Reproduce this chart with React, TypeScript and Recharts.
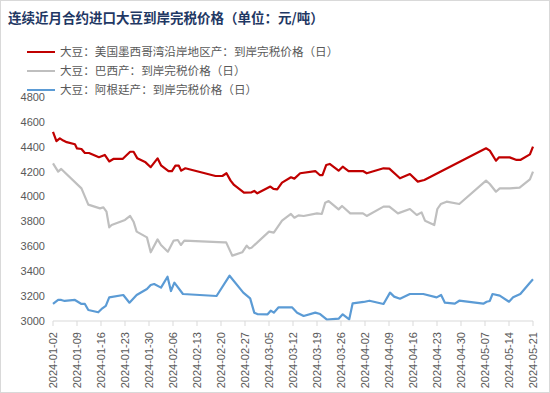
import React from 'react';
import { LineChart, Line, XAxis, YAxis, Legend } from 'recharts';

const seriesNames = [
  '大豆：美国墨西哥湾沿岸地区产：到岸完税价格（日）',
  '大豆：巴西产：到岸完税价格（日）',
  '大豆：阿根廷产：到岸完税价格（日）',
];
const seriesColors = ['#C00000', '#BFBFBF', '#5B9BD5'];

const tickLabels = [
  '2024-01-02', '2024-01-09', '2024-01-16', '2024-01-23', '2024-01-30', '2024-02-06', '2024-02-13',
  '2024-02-20', '2024-02-27', '2024-03-05', '2024-03-12', '2024-03-19', '2024-03-26', '2024-04-02',
  '2024-04-09', '2024-04-16', '2024-04-23', '2024-04-30', '2024-05-07', '2024-05-14', '2024-05-21',
];
const yTicks = [3000, 3200, 3400, 3600, 3800, 4000, 4200, 4400, 4600, 4800];

// days since 2024-01-02
const usDays = [0,1,2,3,4,6.4,7,8.3,9.3,10.5,13.4,15.1,16.4,17.6,20.3,22.5,23.5,24.6,27,28.5,30.5,31.5,33.7,34.7,35.7,36.7,37.4,38.6,47.4,49.4,50.6,51.8,52.8,55.7,57.9,58.7,59.6,63.4,64.3,65.4,66.8,69.4,70.4,72.1,76.5,77.8,78.6,79.7,80.7,83.3,84.5,86.2,90.4,91.5,96.4,98.1,101.2,104.1,106.4,108.3,126.3,127.4,129.2,130.1,133.2,135.2,136.3,139.1,140];
const usValues = [4520,4445,4468,4450,4437,4420,4387,4382,4350,4350,4316,4334,4282,4302,4302,4360,4360,4307,4275,4236,4307,4251,4205,4205,4248,4248,4208,4227,4165,4165,4187,4128,4093,4031,4034,4045,4026,4080,4061,4058,4112,4155,4144,4187,4205,4173,4173,4254,4262,4208,4240,4205,4205,4187,4227,4224,4147,4181,4120,4133,4388,4369,4288,4315,4315,4294,4294,4339,4401];

const brDays = [0,1.5,2.4,8.3,10.3,13.7,14.7,15.6,16.4,17.1,21,22.5,23.5,24.4,27.4,28.5,30.5,31.5,33.5,35.2,36.4,37.3,38.3,49.9,50.5,52.3,55.2,56.5,57.2,57.9,63,64.4,66.8,69.4,70.4,71.6,73.1,77,78.4,79.4,80.4,83.3,84.3,86.7,90.4,91.5,96.4,98.1,100.6,104.1,106.1,107.5,108.5,111.2,112.1,113.1,114.8,118.5,126.3,127.4,129.2,130.3,133.2,136.1,139.1,140];
const brValues = [4267,4200,4222,4066,3935,3905,3913,3879,3753,3771,3812,3844,3798,3718,3672,3552,3656,3611,3557,3646,3651,3611,3646,3632,3632,3525,3552,3605,3584,3589,3718,3710,3806,3860,3830,3849,3844,3865,3860,3951,3964,3897,3924,3865,3865,3844,3919,3919,3865,3900,3852,3873,3806,3771,3900,3940,3959,3940,4128,4101,4039,4066,4066,4071,4138,4200];

const arDays = [0,1.5,2.4,3.4,6.4,8.3,9.3,10.3,13.2,14.4,15.4,16.4,20.5,22.3,24.4,27.4,28.5,29.5,31.5,33.4,34.4,35.4,37.9,47.7,51.5,55.5,57.5,58.7,59.6,62.6,63.5,64.4,65.8,69.7,71.2,73.1,76.5,77.9,79.9,83.3,84.5,86.4,87.4,90.6,92.3,96.4,98.3,99.5,101.2,104.1,108,111.9,113.2,114.3,117.2,118.5,125.5,126.5,127.4,128.2,130.3,133,134.2,136.3,139.1,140];
const arValues = [3137,3169,3169,3161,3169,3137,3137,3088,3070,3102,3121,3190,3209,3147,3209,3257,3289,3297,3268,3356,3241,3308,3217,3201,3364,3228,3182,3067,3056,3054,3083,3067,3110,3110,3067,3040,3067,3056,3011,3019,3054,3013,3142,3153,3163,3137,3228,3196,3179,3217,3217,3190,3209,3147,3139,3163,3139,3155,3161,3217,3204,3155,3190,3217,3308,3335];

const build = (days: number[], values: number[]) => days.map((d, i) => ({ d, v: values[i] }));
const usData = build(usDays, usValues);
const brData = build(brDays, brValues);
const arData = build(arDays, arValues);
const xTicks = tickLabels.map((_, i) => i * 7);

const FONT = '"Liberation Sans", Arial, sans-serif';
const CJK = '"Noto Sans CJK SC", sans-serif';

const XTick = (props: any) => {
  const { x, y, payload } = props;
  const label = tickLabels[Math.round(payload.value / 7)] ?? '';
  return (
    <g transform={`translate(${x},${y})`}>
      <text transform="rotate(-90)" x={-4} y={4} textAnchor="end" fontSize={11} fill="#595959" fontFamily={FONT}>
        {label}
      </text>
    </g>
  );
};

const LegendContent = () => (
  <div style={{ fontFamily: CJK, fontSize: 11.6, color: '#595959' }}>
    {seriesNames.map((n, i) => (
      <div key={n} style={{ display: 'flex', alignItems: 'center', height: 19 }}>
        <div style={{ width: 28, height: 2, background: seriesColors[i], marginRight: 5 }} />
        <span style={{ whiteSpace: 'nowrap', lineHeight: '19px' }}>{n}</span>
      </div>
    ))}
  </div>
);

export default function App() {
  return (
    <div style={{ position: 'absolute', left: 0, top: 0, width: 550, height: 393, background: '#fff' }}>
      <div
        style={{
          position: 'absolute', left: 8, top: 7, fontFamily: CJK, fontWeight: 700, fontSize: 13.5,
          color: '#1F3864', whiteSpace: 'nowrap', lineHeight: '20px',
        }}
      >
        连续近月合约进口大豆到岸完税价格（单位：元/吨）
      </div>
      <LineChart width={550} height={393} margin={{ top: 97, right: 17, bottom: 0, left: 0 }}>
        <XAxis
          type="number"
          dataKey="d"
          domain={[0, 140]}
          ticks={xTicks}
          interval={0}
          height={72}
          tick={<XTick />}
          tickSize={5}
          tickMargin={2}
          axisLine={{ stroke: '#D9D9D9' }}
          tickLine={{ stroke: '#D9D9D9' }}
          allowDuplicatedCategory={false}
        />
        <YAxis
          type="number"
          domain={[3000, 4800]}
          ticks={yTicks}
          interval={0}
          width={53}
          axisLine={false}
          tickLine={false}
          tickSize={0}
          tickMargin={8}
          tick={{ fontSize: 11, fill: '#595959', fontFamily: FONT }}
        />
        <Legend
          layout="vertical"
          align="center"
          verticalAlign="middle"
          content={<LegendContent />}
          wrapperStyle={{ left: 27, top: 42, width: 400, height: 60 }}
        />
        <Line data={usData} dataKey="v" name={seriesNames[0]} stroke={seriesColors[0]} strokeWidth={2.2} dot={false} isAnimationActive={false} strokeLinejoin="round" />
        <Line data={brData} dataKey="v" name={seriesNames[1]} stroke={seriesColors[1]} strokeWidth={2.2} dot={false} isAnimationActive={false} strokeLinejoin="round" />
        <Line data={arData} dataKey="v" name={seriesNames[2]} stroke={seriesColors[2]} strokeWidth={2.2} dot={false} isAnimationActive={false} strokeLinejoin="round" />
      </LineChart>
      <div style={{ position: 'absolute', inset: 0, border: '1px solid #D9D9D9', boxSizing: 'border-box', pointerEvents: 'none' }} />
    </div>
  );
}
